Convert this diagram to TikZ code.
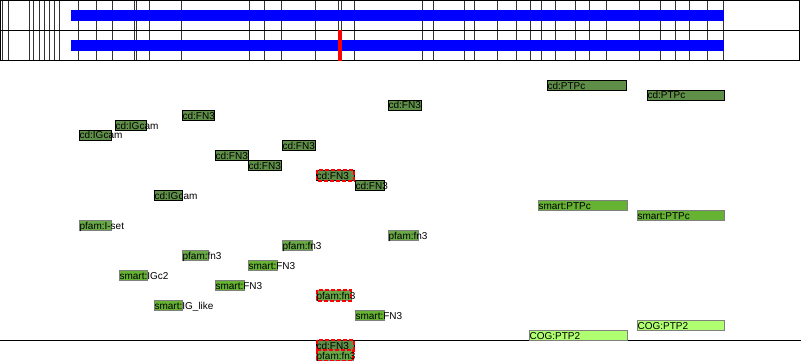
\documentclass[tikz,border=0pt]{standalone}
\usepackage{fontspec}
\setmainfont{Liberation Sans}
\definecolor{cdc}{RGB}{95,142,72}
\definecolor{pfamc}{RGB}{106,170,70}
\definecolor{smartc}{RGB}{102,178,50}
\definecolor{cogc}{RGB}{176,255,112}
\tikzset{
  vline/.style={draw=black!80, line width=1pt},
  frame/.style={draw=black, line width=1pt},
  bluebar/.style={fill=blue},
  cdbox/.style={fill=cdc, draw=black, line width=1pt},
  pfambox/.style={fill=pfamc, draw=gray, line width=1pt},
  smartbox/.style={fill=smartc, draw=gray, line width=1pt},
  cogbox/.style={fill=cogc, draw=gray, line width=1pt},
  hl/.style={draw=red, line width=2pt, dash pattern=on 4pt off 2pt},
  lab/.style={anchor=base west, inner sep=0pt, font=\fontsize{10}{10}\selectfont}
}
\newcommand\dombox[6]{%
  \draw[#2] (#3,#5+0.5) rectangle (#4,#5+10.5);
  \node[lab] (#1) at (#3+0.4,#5+9) {#6};}
\newcommand\hidom[6]{%
  \draw[#2] (#3,#5+0.5) rectangle (#4,#5+10.5);
  \draw[hl] (#3+0.5,#5) rectangle (#4,#5+10.5);
  \node[lab] (#1) at (#3+0.4,#5+9) {#6};}
\begin{document}
\begin{tikzpicture}[x=1pt,y=-1pt]
\useasboundingbox (0,0) rectangle (801,361);
\fill[white] (0,0) rectangle (801,361);
% overview track
\foreach \x in {2.7,8.3,29.3,33.3,39,44.3,49.3,54.3,59.3,78.7,96,112.3,134.3,136,149,181.7,249.3,264.3,281,315.7,338.3,341.7,354.3,422.7,433.3,464,474,497.7,516.7,530,541,555.3,575.5,589.3,606.7,639.3,660,675,689.3,707.5,723.3}
  \draw[vline] (\x,0.5) -- (\x,60.5);
\draw[frame] (0.5,0.5) rectangle (799.5,60.5);
\draw[frame] (0.5,30.5) -- (799.5,30.5);
\fill[bluebar] (71,10) rectangle (724,21);
\fill[bluebar] (71,40) rectangle (724,51);
\fill[red] (337.5,30.5) rectangle (342,61);
% separator
\draw[frame] (0,340.5) -- (801,340.5);
% cd
\dombox{a1}{cdbox}{547}{626}{80}{cd:PTPc}
\dombox{a2}{cdbox}{647}{724}{90}{cd:PTPc}
\dombox{a3}{cdbox}{388}{421}{100}{cd:FN3}
\dombox{a4}{cdbox}{182}{214}{110}{cd:FN3}
\dombox{a5}{cdbox}{115}{146}{120}{cd:IGcam}
\dombox{a6}{cdbox}{79}{111}{130}{cd:IGcam}
\dombox{a7}{cdbox}{282}{315}{140}{cd:FN3}
\dombox{a8}{cdbox}{215}{248}{150}{cd:FN3}
\dombox{a9}{cdbox}{248}{281}{160}{cd:FN3}
\hidom{a10}{cdbox}{316}{354}{170}{cd:FN3}
\dombox{a11}{cdbox}{355}{384}{180}{cd:FN3}
\dombox{a12}{cdbox}{154}{182}{190}{cd:IGcam}
\hidom{a13}{cdbox}{316}{354}{340}{cd:FN3}
% pfam
\dombox{p1}{pfambox}{79}{111}{220}{pfam:I-set}
\dombox{p2}{pfambox}{388}{418}{230}{pfam:fn3}
\dombox{p3}{pfambox}{282}{312}{240}{pfam:fn3}
\dombox{p4}{pfambox}{182}{208}{250}{pfam:fn3}
\hidom{p5}{pfambox}{316}{351}{290}{pfam:fn3}
\hidom{p6}{pfambox}{316}{353}{350}{pfam:fn3}
% smart
\dombox{s1}{smartbox}{538}{627}{200}{smart:PTPc}
\dombox{s2}{smartbox}{637}{724}{210}{smart:PTPc}
\dombox{s3}{smartbox}{248}{277}{260}{smart:FN3}
\dombox{s4}{smartbox}{119}{147}{270}{smart:IGc2}
\dombox{s5}{smartbox}{215}{244}{280}{smart:FN3}
\dombox{s6}{smartbox}{154}{182}{300}{smart:IG\_like}
\dombox{s7}{smartbox}{355}{384}{310}{smart:FN3}
% COG
\dombox{c1}{cogbox}{637}{724}{320}{COG:PTP2}
\dombox{c2}{cogbox}{529}{627}{330}{COG:PTP2}
\end{tikzpicture}
\end{document}
